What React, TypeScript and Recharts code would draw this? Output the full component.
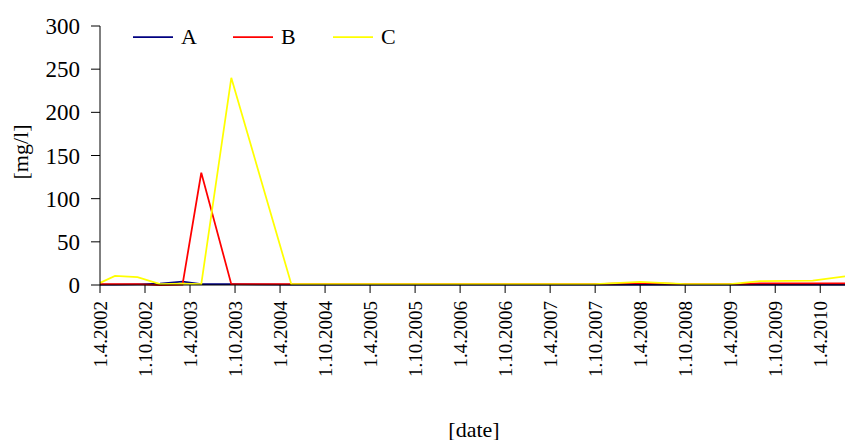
import { LineChart, Line, XAxis, YAxis, Legend } from 'recharts';

// sampling dates, as months counted from 1.4.2002
const months = [0, 2, 5, 8, 11, 13.5, 17.5, 25.5, 30, 36, 42, 48, 54, 60, 66, 72, 78, 84, 88, 95, 99.3];

const seriesA = [0.5, 0.5, 0.8, 1.5, 4, 1, 1, 0.5, 0.5, 0.5, 0.5, 0.5, 0.5, 0.5, 0.5, 0.5, 0.5, 0.5, 0.5, 0.5, 0.5];
const seriesB = [1, 1, 1, 0, 0.5, 130, 1, 1, 1, 1, 1, 1, 1, 1, 1, 2.5, 1, 1, 2, 2, 2];
const seriesC = [2.5, 10.5, 9, 1, 1.5, 1, 240, 1, 1, 1, 1, 1, 1, 1, 1, 3.5, 1, 1, 4.5, 5, 10];

const tickMonths = [0, 6, 12, 18, 24, 30, 36, 42, 48, 54, 60, 66, 72, 78, 84, 90, 96];
const tickLabels = [
  '1.4.2002', '1.10.2002', '1.4.2003', '1.10.2003', '1.4.2004', '1.10.2004',
  '1.4.2005', '1.10.2005', '1.4.2006', '1.10.2006', '1.4.2007', '1.10.2007',
  '1.4.2008', '1.10.2008', '1.4.2009', '1.10.2009', '1.4.2010',
];

const yTicks = [0, 50, 100, 150, 200, 250, 300];

const series = [
  { key: 'A', color: '#000080' },
  { key: 'B', color: '#ff0000' },
  { key: 'C', color: '#ffff00' },
];

const data = months.map((m, i) => ({ month: m, A: seriesA[i], B: seriesB[i], C: seriesC[i] }));

const FONT = 'Liberation Serif, DejaVu Serif, serif';

const DateTick = (props: any) => {
  const { x, y, payload } = props;
  const idx = tickMonths.indexOf(payload.value);
  return (
    <g transform={`translate(${x},${y})`}>
      <text
        transform="rotate(-90)"
        x={-8}
        dy="0.36em"
        textAnchor="end"
        fontSize={19}
        fontFamily={FONT}
        fill="#000"
      >
        {tickLabels[idx]}
      </text>
    </g>
  );
};

const LegendRow = () => (
  <div style={{ display: 'flex', fontFamily: FONT, fontSize: 22, color: '#000' }}>
    {series.map((s) => (
      <div key={s.key} style={{ display: 'flex', alignItems: 'center', width: 100 }}>
        <svg width={40} height={4}>
          <line x1={0} y1={2} x2={40} y2={2} stroke={s.color} strokeWidth={1.75} />
        </svg>
        <span style={{ marginLeft: 8, lineHeight: '22px' }}>{s.key}</span>
      </div>
    ))}
  </div>
);

const App = () => {
  return (
    <div style={{ position: 'absolute', left: 0, top: 0, fontFamily: FONT, background: '#fff' }}>
      <LineChart width={845} height={440} data={data} margin={{ top: 26, right: 0, bottom: 0, left: 0 }}>
        <XAxis
          dataKey="month"
          type="number"
          domain={[0, 99.3]}
          ticks={tickMonths}
          interval={0}
          height={155}
          tickSize={8}
          tickMargin={0}
          stroke="#000"
          tick={<DateTick />}
          label={{
            content: () => (
              <text
                x={474}
                y={429}
                textAnchor="middle"
                dominantBaseline="central"
                fontSize={22}
                fontFamily={FONT}
                fill="#000"
              >
                [date]
              </text>
            ),
          }}
        />
        <YAxis
          domain={[0, 300]}
          ticks={yTicks}
          width={100}
          tickSize={9}
          tickMargin={11}
          stroke="#000"
          tick={{ fontSize: 23, fill: '#000', fontFamily: FONT }}
          label={{
            content: () => (
              <text
                x={20}
                y={152}
                transform="rotate(-90 20 152)"
                textAnchor="middle"
                dominantBaseline="central"
                fontSize={22}
                fontFamily={FONT}
                fill="#000"
              >
                [mg/l]
              </text>
            ),
          }}
        />
        <Legend
          layout="horizontal"
          verticalAlign="middle"
          align="center"
          content={<LegendRow />}
          wrapperStyle={{ top: 26, left: 133, width: 320, height: 22 }}
        />
        {series.map((s) => (
          <Line
            key={s.key}
            dataKey={s.key}
            stroke={s.color}
            strokeWidth={1.75}
            dot={false}
            activeDot={false}
            isAnimationActive={false}
          />
        ))}
      </LineChart>
    </div>
  );
};

export default App;
